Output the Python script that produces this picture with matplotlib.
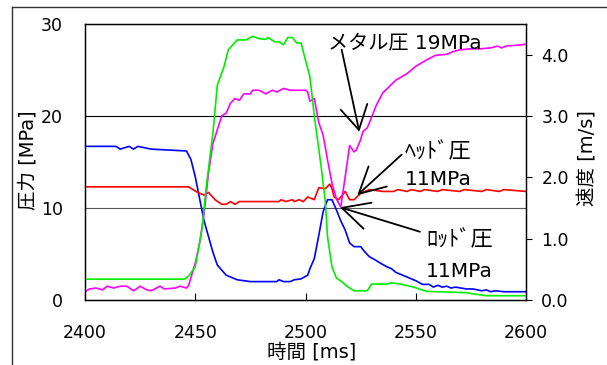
import numpy as np
import matplotlib
matplotlib.use('Agg')
import matplotlib.pyplot as plt
from matplotlib.lines import Line2D

plt.rcParams['font.family'] = ['DejaVu Sans', 'Noto Sans CJK JP']

# ロッド圧 [MPa] (青)
rod_t = [2400, 2414, 2416, 2420, 2422, 2424, 2430, 2446, 2448, 2450, 2452, 2454, 2456, 2458, 2460,
         2464, 2469, 2475, 2487, 2488, 2490, 2493, 2495, 2498, 2501, 2502, 2504, 2506, 2508, 2510,
         2512, 2514, 2516, 2518, 2520, 2522, 2525, 2527, 2529, 2532, 2534, 2537, 2539, 2541, 2544,
         2547, 2550, 2553, 2556, 2558, 2560, 2562, 2564, 2566, 2568, 2573, 2576, 2580, 2582, 2584,
         2586, 2590, 2595, 2600]
rod_p = [16.7, 16.7, 16.4, 16.7, 16.4, 16.7, 16.4, 16.2, 15.3, 13.4, 11.0, 8.6, 6.9, 5.2, 3.8,
         2.7, 2.2, 2.0, 2.0, 2.2, 2.0, 2.0, 2.2, 2.3, 2.7, 3.4, 4.5, 7.0, 9.6, 10.9,
         10.9, 9.8, 8.6, 7.6, 6.2, 5.8, 5.8, 5.2, 4.7, 4.3, 4.0, 3.6, 3.4, 3.0, 2.7,
         2.4, 2.1, 1.7, 1.7, 1.4, 1.6, 1.4, 1.5, 1.3, 1.4, 1.2, 1.2, 1.0, 1.1, 0.9,
         1.0, 0.9, 0.9, 0.9]

# ヘッド圧 [MPa] (赤)
head_t = [2400, 2447, 2449, 2451, 2454, 2456, 2459, 2462, 2464, 2466, 2468, 2470, 2488, 2489,
          2491, 2494, 2495, 2497, 2499, 2501, 2504, 2506, 2509, 2511, 2512, 2513, 2515, 2518,
          2520, 2522, 2525, 2529, 2535, 2540, 2542, 2546, 2548, 2552, 2554, 2560, 2562, 2570,
          2572, 2580, 2582, 2588, 2590, 2600]
head_p = [12.3, 12.3, 12.0, 11.7, 11.4, 11.7, 10.9, 10.4, 10.4, 10.7, 10.4, 10.7, 10.7, 10.9,
          10.7, 10.9, 10.7, 10.9, 10.7, 11.2, 10.9, 12.2, 12.1, 12.6, 12.1, 11.2, 10.9, 11.8,
          10.9, 10.9, 11.6, 12.0, 11.8, 11.8, 12.0, 11.8, 12.0, 11.8, 12.0, 11.8, 12.0, 11.8,
          12.0, 11.8, 12.0, 11.8, 12.0, 11.8]

# メタル圧 [MPa] (マゼンタ)
metal_t = [2400, 2402, 2405, 2408, 2410, 2413, 2416, 2419, 2422, 2425, 2428, 2430, 2434, 2436,
           2441, 2443, 2446, 2447, 2450, 2452, 2454, 2456, 2458, 2460, 2462, 2464, 2466, 2468,
           2470, 2472, 2475, 2476, 2479, 2482, 2485, 2487, 2490, 2493, 2500, 2501, 2502, 2504,
           2506, 2508, 2510, 2512, 2514, 2516, 2518, 2520, 2522, 2523, 2525, 2526, 2528, 2530,
           2532, 2535, 2538, 2541, 2546, 2550, 2555, 2559, 2564, 2567, 2570, 2575, 2579, 2584,
           2587, 2589, 2591, 2596, 2600]
metal_p = [0.9, 1.2, 1.3, 1.1, 1.5, 1.3, 1.5, 1.5, 1.0, 1.5, 1.1, 1.0, 1.5, 1.2,
           1.3, 1.5, 1.3, 1.6, 4.0, 6.2, 9.4, 13.8, 17.0, 18.5, 20.0, 20.3, 21.4, 21.9,
           21.7, 22.4, 22.4, 22.8, 22.8, 22.4, 22.8, 22.6, 23.0, 22.8, 22.8, 22.6, 21.6, 21.9,
           19.3, 17.9, 15.2, 12.7, 11.0, 10.1, 13.4, 16.8, 16.1, 16.3, 17.4, 18.3, 18.7, 19.9,
           21.1, 22.5, 23.2, 23.9, 24.6, 25.4, 26.1, 26.6, 26.7, 27.0, 27.2, 27.3, 27.3, 27.4,
           27.6, 27.4, 27.6, 27.7, 27.8]

# 速度 [m/s] (緑)
vel_t = [2400, 2445, 2447, 2450, 2453, 2455, 2458, 2460, 2463, 2465, 2469, 2473, 2476, 2479,
         2482, 2483, 2486, 2488, 2490, 2492, 2494, 2496, 2498, 2500, 2502, 2504, 2507, 2509,
         2510, 2512, 2514, 2516, 2519, 2522, 2528, 2530, 2537, 2539, 2543, 2549, 2555, 2573,
         2576, 2582, 2600]
vel_v = [0.34, 0.34, 0.39, 0.54, 1.14, 1.85, 2.72, 3.50, 3.80, 4.08, 4.24, 4.24, 4.30, 4.26,
         4.25, 4.28, 4.21, 4.21, 4.16, 4.28, 4.28, 4.19, 4.19, 3.91, 3.64, 3.00, 2.20, 1.60,
         1.03, 0.54, 0.36, 0.31, 0.22, 0.15, 0.15, 0.26, 0.26, 0.28, 0.26, 0.21, 0.14, 0.12,
         0.10, 0.07, 0.07]

x_ticks = [2400, 2450, 2500, 2550, 2600]
p_ticks = [0, 10, 20, 30]
v_ticks = [0.0, 1.0, 2.0, 3.0, 4.0]

fs_tick = 12.5
fs_lab = 14
fs_note = 14.5

fig = plt.figure(figsize=(6.07, 3.65), dpi=100)
ax = fig.add_axes([85 / 607, 65 / 365, 441 / 607, 276 / 365])

# 外枠
fig.add_artist(Line2D([12 / 607, 12 / 607], [0, 358 / 365], transform=fig.transFigure,
                      color='#333333', lw=1.0))
fig.add_artist(Line2D([12 / 607, 1], [358 / 365, 358 / 365], transform=fig.transFigure,
                      color='#333333', lw=1.0))

ax.axhline(20, color='black', lw=0.8, zorder=1)
ax.axhline(10, color='#555555', lw=0.8, zorder=1)

ax.plot(rod_t, rod_p, color='#0000ff', lw=1.2, zorder=3)
ax.plot(head_t, head_p, color='#ff0000', lw=1.2, zorder=3)
ax.plot(metal_t, metal_p, color='#ff00ff', lw=1.2, zorder=3)

ax.set_xlim(2400, 2600)
ax.set_ylim(0, 30)
ax.set_xticks(x_ticks)
ax.set_yticks(p_ticks)
ax.tick_params(axis='x', direction='in', length=5, pad=17, labelsize=fs_tick)
ax.tick_params(axis='y', length=0, pad=16, labelsize=fs_tick)
for s in ax.spines.values():
    s.set_linewidth(1.0)

ax2 = ax.twinx()
ax2.plot(vel_t, vel_v, color='#00ee00', lw=1.2)
ax2.set_ylim(0, 4.5)
ax2.set_yticks(v_ticks)
ax2.set_yticklabels([f'{v:.1f}' for v in v_ticks])
ax2.tick_params(axis='y', direction='out', length=4, pad=7, labelsize=fs_tick)

fig.text(28 / 607, 1 - 160 / 365, '圧力 [MPa]', rotation=90, ha='center', va='center', fontsize=fs_lab)
fig.text(588 / 607, 1 - 158 / 365, '速度 [m/s]', rotation=90, ha='center', va='center', fontsize=fs_lab)
fig.text(312 / 607, 1 - 352 / 365, '時間 [ms]', ha='center', va='center', fontsize=fs_lab)

# 注記
ax.text(2510.2, 28.0, 'メタル圧 19MPa', ha='left', va='center', fontsize=fs_note)
ax.text(2545.1, 16.1, 'ﾍｯﾄﾞ圧', ha='left', va='center', fontsize=16)
ax.text(2545.1, 13.15, '11MPa', ha='left', va='center', fontsize=fs_note)
ax.text(2554.6, 6.5, 'ﾛｯﾄﾞ圧', ha='left', va='center', fontsize=16)
ax.text(2554.6, 3.1, '11MPa', ha='left', va='center', fontsize=fs_note)

arrows = [((2516.4, 27.2), (2524.4, 18.3), 1.7),
          ((2543.6, 15.8), (2523.5, 11.4), 1.85),
          ((2551.9, 7.42), (2515.6, 10.08), 1.94)]
for tail, tip, hl in arrows:
    ax.annotate('', xy=tip, xytext=tail, zorder=5,
                arrowprops=dict(arrowstyle=f'->,head_length={hl},head_width=0.98',
                                mutation_scale=10, color='black', lw=1.3,
                                shrinkA=0, shrinkB=0))

fig.savefig('out.png', dpi=100)
